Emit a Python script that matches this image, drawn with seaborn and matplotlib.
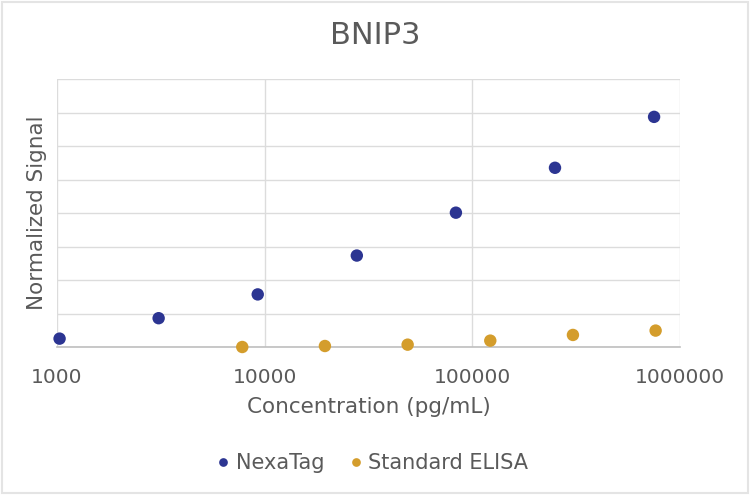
import matplotlib
matplotlib.use("Agg")
import matplotlib.pyplot as plt
import matplotlib.ticker as mticker
from matplotlib.patches import Rectangle
import seaborn as sns
import pandas as pd

# data
nexatag_conc = [1029, 3086, 9259, 27778, 83333, 250000, 750000]
nexatag_signal = [0.25, 0.86, 1.57, 2.73, 4.01, 5.35, 6.87]
elisa_conc = [7800, 19500, 48800, 122000, 305000, 763000]
elisa_signal = [0.00, 0.03, 0.07, 0.19, 0.36, 0.49]
x_ticks = [1000, 10000, 100000, 1000000]
series_names = ["NexaTag", "Standard ELISA"]
series_colors = ["#2c3592", "#d49d2c"]

df = pd.concat([
    pd.DataFrame({"conc": nexatag_conc, "signal": nexatag_signal, "series": series_names[0]}),
    pd.DataFrame({"conc": elisa_conc, "signal": elisa_signal, "series": series_names[1]}),
], ignore_index=True)

sns.set_theme(style="white")
plt.rcParams["font.family"] = ["DejaVu Sans"]
text_color = "#5a5a5a"

fig = plt.figure(figsize=(7.5, 4.96), dpi=100)
ax = fig.add_axes([0.076, 0.3004, 0.8307, 0.5403])

sns.scatterplot(data=df, x="conc", y="signal", hue="series",
                palette=dict(zip(series_names, series_colors)),
                s=80, edgecolor="none", ax=ax, zorder=3, clip_on=False)

ax.set_xscale("log")
ax.set_xlim(1000, 1000000)
ax.set_ylim(0, 8)
ax.set_yticks(range(0, 9))
ax.set_yticklabels([])
ax.xaxis.set_major_locator(mticker.FixedLocator(x_ticks))
ax.xaxis.set_minor_locator(mticker.NullLocator())
ax.xaxis.set_major_formatter(mticker.FuncFormatter(lambda v, p: f"{int(round(v))}"))
ax.tick_params(axis="both", length=0)
ax.tick_params(axis="x", pad=15, labelsize=14.5, labelcolor=text_color)

ax.grid(True, axis="both", color="#dcdcdc", linewidth=1)
for side in ["top", "right", "left"]:
    ax.spines[side].set_visible(False)
ax.spines["bottom"].set_color("#bfbfbf")
ax.spines["bottom"].set_linewidth(1.2)

ax.set_xlabel("Concentration (pg/mL)", fontsize=15.5, color=text_color, labelpad=7)
ax.set_ylabel("Normalized Signal", fontsize=15.5, color=text_color, labelpad=4)
fig.text(0.5, 0.929, "BNIP3", ha="center", va="center", fontsize=22, color=text_color)

handles, labels = ax.get_legend_handles_labels()
ax.legend(handles, labels, loc="center", bbox_to_anchor=(0.494, 0.066),
          bbox_transform=fig.transFigure, ncol=2, frameon=False,
          fontsize=15, labelcolor=text_color, markerscale=0.7,
          handletextpad=0.1, columnspacing=1.0, handlelength=1.0)

fig.add_artist(Rectangle((0.002, 0.006), 0.995, 0.99, transform=fig.transFigure,
                         fill=False, edgecolor="#e4e4e4", linewidth=1.5))

fig.savefig("out.png", dpi=100)
